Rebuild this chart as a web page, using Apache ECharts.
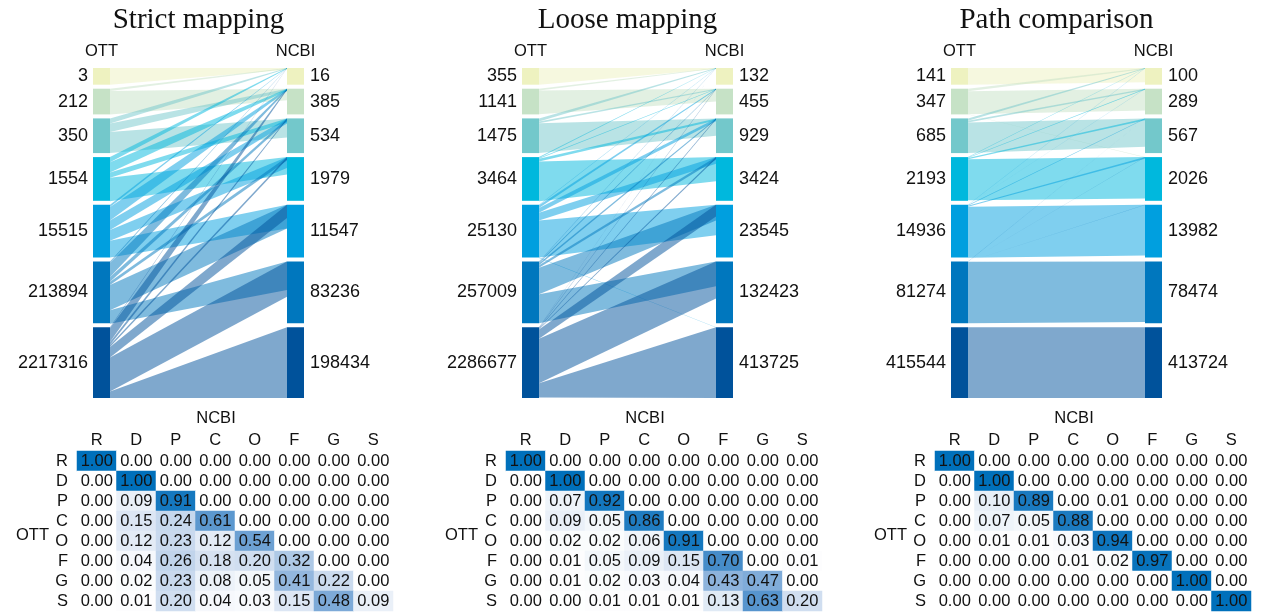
<!DOCTYPE html>
<html><head><meta charset="utf-8">
<script src="https://cdn.jsdelivr.net/npm/echarts@6/dist/echarts.min.js"></script>
<style>html,body{margin:0;padding:0;background:#fff}#c{width:1264px;height:612px}</style>
</head><body><div id="c"></div>
<script>
// ---------------- data ----------------
const ranks = ['R','D','P','C','O','F','G','S'];
const panelTitles = ['Strict mapping','Loose mapping','Path comparison'];

const strictOtt  = [3, 212, 350, 1554, 15515, 213894, 2217316];
const strictNcbi = [16, 385, 534, 1979, 11547, 83236, 198434];
const looseOtt   = [355, 1141, 1475, 3464, 25130, 257009, 2286677];
const looseNcbi  = [132, 455, 929, 3424, 23545, 132423, 413725];
const pathOtt    = [141, 347, 685, 2193, 14936, 81274, 415544];
const pathNcbi   = [100, 289, 567, 2026, 13982, 78474, 413724];

// heatmaps: rows OTT R..S, columns NCBI R..S
const strictMatrix = [
  [1,0,0,0,0,0,0,0],
  [0,1,0,0,0,0,0,0],
  [0,0.09,0.91,0,0,0,0,0],
  [0,0.15,0.24,0.61,0,0,0,0],
  [0,0.12,0.23,0.12,0.54,0,0,0],
  [0,0.04,0.26,0.18,0.20,0.32,0,0],
  [0,0.02,0.23,0.08,0.05,0.41,0.22,0],
  [0,0.01,0.20,0.04,0.03,0.15,0.48,0.09]
];
const looseMatrix = [
  [1,0,0,0,0,0,0,0],
  [0,1,0,0,0,0,0,0],
  [0,0.07,0.92,0,0,0,0,0],
  [0,0.09,0.05,0.86,0,0,0,0],
  [0,0.02,0.02,0.06,0.91,0,0,0],
  [0,0.01,0.05,0.09,0.15,0.70,0,0.01],
  [0,0.01,0.02,0.03,0.04,0.43,0.47,0.002],
  [0,0.003,0.01,0.01,0.01,0.13,0.63,0.20]
];
const pathMatrix = [
  [1,0,0,0,0,0,0,0],
  [0,1,0,0,0,0,0,0],
  [0,0.10,0.89,0,0.01,0,0,0],
  [0,0.07,0.05,0.88,0,0,0,0],
  [0,0.01,0.01,0.03,0.94,0,0,0],
  [0,0.003,0.003,0.01,0.02,0.97,0,0],
  [0,0.001,0.001,0.001,0.001,0.001,0.996,0],
  [0,0,0,0,0,0,0,1]
];

// share of each NCBI node reached by a flow (rows OTT D..S, cols NCBI D..S)
const strictShare = [
  [0.10,0,0,0,0,0,0],
  [0.04,0.45,0,0,0,0,0],
  [0.05,0.10,0.55,0,0,0,0],
  [0.04,0.08,0.12,0.40,0,0,0],
  [0.02,0.08,0.15,0.25,0.45,0,0],
  [0.01,0.06,0.08,0.08,0.45,0.46,0],
  [0.01,0.05,0.04,0.05,0.25,0.57,1.00]
];
const looseShare = [
  [0.06,0,0,0,0,0,0],
  [0.03,0.50,0,0,0,0,0],
  [0.04,0.04,0.50,0,0,0,0],
  [0.02,0.02,0.06,0.55,0,0,0],
  [0.01,0.04,0.08,0.15,0.58,0,0.005],
  [0.01,0.02,0.04,0.06,0.30,0.40,0.002],
  [0.003,0.02,0.03,0.04,0.22,0.60,1.00]
];
const pathShare = [
  [0.85,0,0,0,0,0,0],
  [0.06,0.85,0,0.01,0,0,0],
  [0.05,0.05,0.82,0,0,0,0],
  [0.02,0.03,0.05,0.95,0,0,0],
  [0.01,0.01,0.02,0.04,0.96,0,0],
  [0.005,0.005,0.005,0.005,0.005,0.98,0],
  [0,0,0,0,0,0,1.00]
];

// ---------------- style / layout ----------------
const nodeColors = ['#eef2c0','#c6e2c6','#73c8cb','#00b8dd','#009fdf','#0077be','#00529b'];
const FONT = '"Liberation Sans", Arial, sans-serif';
const TXT = '#111';
function rgba(hex, a){
  const n = parseInt(hex.slice(1),16);
  return 'rgba(' + ((n>>16)&255) + ',' + ((n>>8)&255) + ',' + (n&255) + ',' + a + ')';
}
const flowColors = nodeColors.map(c => rgba(c, 0.5));

const panels = [
  {ott: strictOtt, ncbi: strictNcbi, matrix: strictMatrix, share: strictShare},
  {ott: looseOtt,  ncbi: looseNcbi,  matrix: looseMatrix,  share: looseShare},
  {ott: pathOtt,   ncbi: pathNcbi,   matrix: pathMatrix,   share: pathShare}
];

const PANEL_DX = 429;
const NODE_W = 17, SPAN = 211, SANKEY_H = 330, GAP = 4;
const nodeH = k => 16.7 + 9 * k;
const tops = [];
{ let acc = 0; for (let k = 0; k < 7; k++) { tops.push(acc); acc += nodeH(k) + GAP; } }

const grids = [], xAxes = [], yAxes = [], series = [], graphics = [], heatIdx = [];

function renderFlow(params, api) {
  const a = api.coord([api.value(0), api.value(1)]);
  const b = api.coord([api.value(0), api.value(2)]);
  const c = api.coord([api.value(3), api.value(5)]);
  const d = api.coord([api.value(3), api.value(4)]);
  return {type: 'polygon', shape: {points: [a, b, c, d]},
          style: {fill: flowColors[api.value(6)]}, silent: true};
}
function renderNode(params, api) {
  const p0 = api.coord([api.value(0), api.value(1)]);
  const p1 = api.coord([api.value(2), api.value(3)]);
  const left = api.value(6) === 0;
  return {type: 'group', children: [
    {type: 'rect', shape: {x: p0[0], y: p0[1], width: p1[0]-p0[0], height: p1[1]-p0[1]},
     style: {fill: nodeColors[api.value(4)]}},
    {type: 'text', style: {text: String(api.value(5)), x: left ? p0[0]-5 : p1[0]+6,
      y: (p0[1]+p1[1])/2, align: left ? 'right' : 'left', verticalAlign: 'middle',
      font: '18px ' + FONT, fill: TXT}}
  ]};
}

panels.forEach((P, p) => {
  const ox = p * PANEL_DX;
  const g = grids.length;
  // sankey grid
  grids.push({left: 93 + ox, top: 68, width: SPAN, height: SANKEY_H, containLabel: false, outerBoundsMode: 'none'});
  xAxes.push({type: 'value', gridIndex: g, min: 0, max: SPAN, show: false});
  yAxes.push({type: 'value', gridIndex: g, min: 0, max: SANKEY_H, inverse: true, show: false});

  const flows = [];
  for (let i = 0; i < 7; i++) {
    let cum = 0;
    const hi = nodeH(i);
    for (let j = 0; j < 7; j++) {
      const m = P.matrix[i+1][j+1];
      if (m <= 0) continue;
      const yL0 = tops[i] + cum * hi;
      const yL1 = yL0 + m * hi;
      cum += m;
      const yR0 = tops[j];
      const yR1 = tops[j] + P.share[i][j] * nodeH(j);
      flows.push([NODE_W, yL0, yL1, SPAN - NODE_W, yR0, yR1, i]);
    }
  }
  series.push({type: 'custom', xAxisIndex: g, yAxisIndex: g, renderItem: renderFlow,
               data: flows, silent: true, animation: false});
  const nodes = [];
  for (let k = 0; k < 7; k++) {
    nodes.push([0, tops[k], NODE_W, tops[k] + nodeH(k), k, P.ott[k], 0]);
    nodes.push([SPAN - NODE_W, tops[k], SPAN, tops[k] + nodeH(k), k, P.ncbi[k], 1]);
  }
  series.push({type: 'custom', xAxisIndex: g, yAxisIndex: g, renderItem: renderNode,
               data: nodes, silent: true, animation: false});

  // heatmap grid
  const h = grids.length;
  grids.push({left: 77 + ox, top: 451, width: 316, height: 160, containLabel: false, outerBoundsMode: 'none'});
  xAxes.push({type: 'category', gridIndex: h, data: ranks, position: 'top',
    axisLine: {show: false}, axisTick: {show: false}, splitLine: {show: false},
    axisLabel: {interval: 0, fontSize: 16.5, color: TXT, fontFamily: FONT, margin: 2}});
  yAxes.push({type: 'category', gridIndex: h, data: ranks, inverse: true,
    axisLine: {show: false}, axisTick: {show: false}, splitLine: {show: false},
    axisLabel: {interval: 0, fontSize: 16.5, color: TXT, fontFamily: FONT, margin: 9}});
  const cells = [];
  for (let r = 0; r < 8; r++) for (let c = 0; c < 8; c++) cells.push([c, r, P.matrix[r][c]]);
  heatIdx.push(series.length);
  series.push({type: 'heatmap', xAxisIndex: h, yAxisIndex: h, data: cells, animation: false,
    label: {show: true, formatter: q => q.value[2].toFixed(2), color: TXT, fontSize: 16.5, fontFamily: FONT},
    emphasis: {disabled: true}, itemStyle: {borderWidth: 0}});

  // texts
  graphics.push({type: 'text', x: 198.5 + ox, y: 20, style: {text: panelTitles[p],
    font: '29px "Liberation Serif", serif', fill: TXT, align: 'center', verticalAlign: 'middle'}});
  graphics.push({type: 'text', x: 101.5 + ox, y: 51, style: {text: 'OTT', font: '16.5px ' + FONT,
    fill: TXT, align: 'center', verticalAlign: 'middle'}});
  graphics.push({type: 'text', x: 295.5 + ox, y: 51, style: {text: 'NCBI', font: '16.5px ' + FONT,
    fill: TXT, align: 'center', verticalAlign: 'middle'}});
  graphics.push({type: 'text', x: 216 + ox, y: 418, style: {text: 'NCBI', font: '16.5px ' + FONT,
    fill: TXT, align: 'center', verticalAlign: 'middle'}});
  graphics.push({type: 'text', x: 32.5 + ox, y: 535, style: {text: 'OTT', font: '16.5px ' + FONT,
    fill: TXT, align: 'center', verticalAlign: 'middle'}});
});

const chart = echarts.init(document.getElementById('c'));
chart.setOption({
  animation: false,
  textStyle: {fontFamily: FONT},
  grid: grids, xAxis: xAxes, yAxis: yAxes, series: series,
  visualMap: {show: false, type: 'continuous', min: 0, max: 1, seriesIndex: heatIdx,
    inRange: {color: ['#ffffff', '#c4d6ec', '#77a6d6', '#3a86c6', '#0070bb']}},
  graphic: graphics
});
</script>
</body></html>
